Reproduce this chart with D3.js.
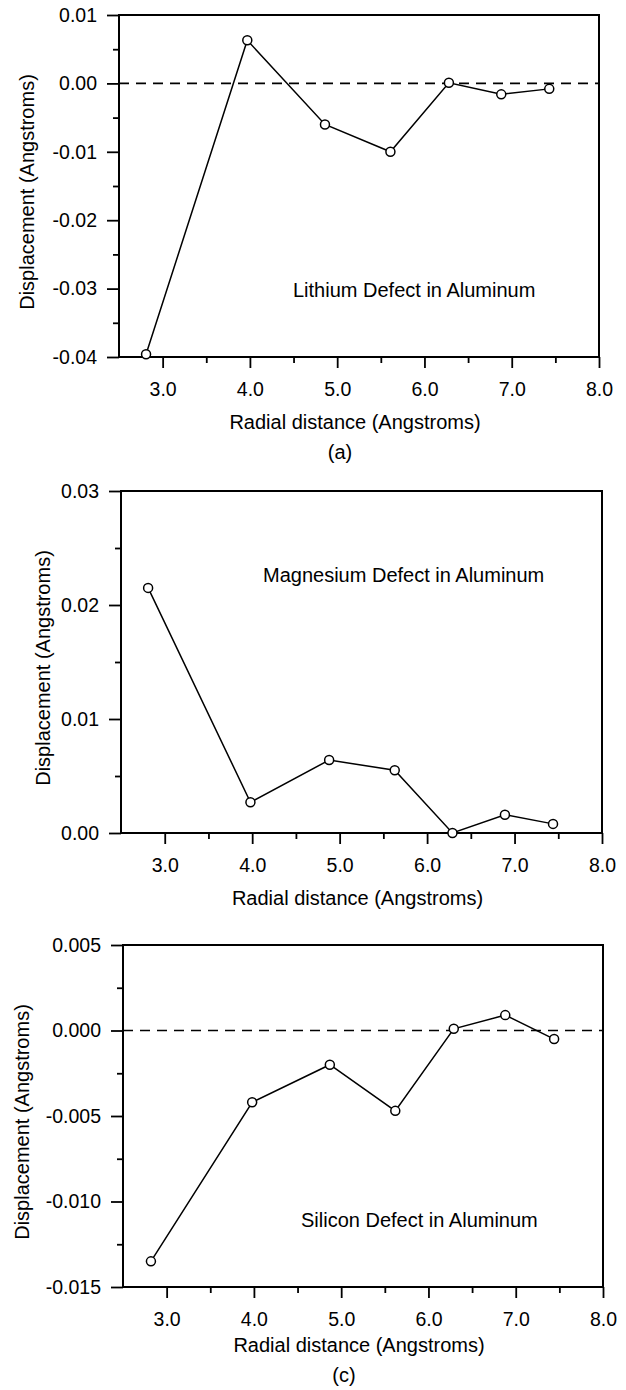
<!DOCTYPE html>
<html>
<head>
<meta charset="utf-8">
<script src="https://cdn.jsdelivr.net/npm/d3@7"></script>
<style>
  body { margin: 0; background: #fff; }
  svg { display: block; font-family: Arial, "Liberation Sans", Helvetica, sans-serif; }
</style>
</head>
<body>
<svg id="chart" width="626" height="1390"></svg>
<script>
// radial distance of neighbour shells (Angstroms) and their displacement
const radialA = [2.81, 3.97, 4.86, 5.61, 6.28, 6.88, 7.43];
const dispA = [-0.0396, 0.0063, -0.0060, -0.0100, 0.0001, -0.0016, -0.0008];

const radialB = [2.81, 3.98, 4.88, 5.63, 6.29, 6.89, 7.44];
const dispB = [0.0215, 0.0027, 0.0064, 0.0055, 0.0000, 0.0016, 0.0008];

const radialC = [2.82, 3.98, 4.87, 5.62, 6.29, 6.88, 7.44];
const dispC = [-0.0135, -0.0042, -0.0020, -0.0047, 0.0001, 0.0009, -0.0005];

// tick values
const xTicks = [3, 4, 5, 6, 7, 8];
const xMinor = [3.5, 4.5, 5.5, 6.5, 7.5];
const yTicksA = [0.01, 0, -0.01, -0.02, -0.03, -0.04];
const yMinorA = [0.005, -0.005, -0.015, -0.025, -0.035];
const yTicksB = [0.03, 0.02, 0.01, 0];
const yMinorB = [0.025, 0.015, 0.005];
const yTicksC = [0.005, 0, -0.005, -0.01, -0.015];
const yMinorC = [0.0025, -0.0025, -0.0075, -0.0125];

const titles = ["Lithium Defect in Aluminum", "Magnesium Defect in Aluminum", "Silicon Defect in Aluminum"];

const svg = d3.select("#chart");

const panels = [
    { xs: radialA, ys: dispA, yDomain: [-0.04, 0.01], yTicks: yTicksA, yMinor: yMinorA, digits: 2,
      left: 119, top: 15, right: 599, bottom: 357, zero: true,
      title: titles[0], titleX: 293, titleY: 297,
      yTitleX: 34, xTitleDy: 72, sub: "(a)" },
    { xs: radialB, ys: dispB, yDomain: [0, 0.03], yTicks: yTicksB, yMinor: yMinorB, digits: 2,
      left: 121, top: 491, right: 602, bottom: 833, zero: false,
      title: titles[1], titleX: 263, titleY: 582,
      yTitleX: 50, xTitleDy: 72, sub: null },
    { xs: radialC, ys: dispC, yDomain: [-0.015, 0.005], yTicks: yTicksC, yMinor: yMinorC, digits: 3,
      left: 123, top: 945, right: 603, bottom: 1287, zero: true,
      title: titles[2], titleX: 301, titleY: 1227,
      yTitleX: 29, xTitleDy: 65, sub: "(c)" }
];

panels.forEach(p => drawPanel(p));

function drawPanel(p) {
    const x = d3.scaleLinear().domain([2.5, 8.0]).range([p.left, p.right]);
    const y = d3.scaleLinear().domain(p.yDomain).range([p.bottom, p.top]);
    const g = svg.append("g");

    // zero reference
    if (p.zero) {
        g.append("line")
            .attr("x1", p.left).attr("x2", p.right)
            .attr("y1", y(0)).attr("y2", y(0))
            .attr("stroke", "#000")
            .attr("stroke-width", 1.6)
            .attr("stroke-dasharray", "10,7");
    }

    // minor ticks
    g.append("g")
        .attr("transform", `translate(0,${p.bottom})`)
        .call(d3.axisBottom(x).tickValues(xMinor).tickSize(6).tickFormat(""))
        .call(s => s.select(".domain").remove());
    g.append("g")
        .attr("transform", `translate(${p.left},0)`)
        .call(d3.axisLeft(y).tickValues(p.yMinor).tickSize(6).tickFormat(""))
        .call(s => s.select(".domain").remove());

    // major ticks
    const xAxis = g.append("g")
        .attr("transform", `translate(0,${p.bottom})`)
        .call(d3.axisBottom(x).tickValues(xTicks).tickSize(11).tickPadding(14)
            .tickFormat(d => d.toFixed(1)));
    const yAxis = g.append("g")
        .attr("transform", `translate(${p.left},0)`)
        .call(d3.axisLeft(y).tickValues(p.yTicks).tickSize(12).tickPadding(10)
            .tickFormat(d => d.toFixed(p.digits)));

    [xAxis, yAxis].forEach(a => {
        a.select(".domain").remove();
        a.selectAll("text").attr("font-size", "19.5px").attr("fill", "#000")
            .attr("font-family", "Arial, 'Liberation Sans', sans-serif");
    });
    g.selectAll(".tick line").attr("stroke", "#000").attr("stroke-width", 1.8);

    // frame
    g.append("rect")
        .attr("x", p.left).attr("y", p.top)
        .attr("width", p.right - p.left).attr("height", p.bottom - p.top)
        .attr("fill", "none").attr("stroke", "#000").attr("stroke-width", 2);

    // data line + markers
    const pts = p.xs.map((v, i) => [v, p.ys[i]]);
    const line = d3.line().x(d => x(d[0])).y(d => y(d[1]));
    g.append("path")
        .datum(pts)
        .attr("d", line)
        .attr("fill", "none")
        .attr("stroke", "#000")
        .attr("stroke-width", 1.5);
    g.selectAll(".pt")
        .data(pts)
        .enter().append("circle")
        .attr("class", "pt")
        .attr("cx", d => x(d[0]))
        .attr("cy", d => y(d[1]))
        .attr("r", 4.5)
        .attr("fill", "#fff")
        .attr("stroke", "#000")
        .attr("stroke-width", 1.5);

    // in-plot caption
    g.append("text")
        .attr("x", p.titleX).attr("y", p.titleY)
        .attr("font-size", "20px")
        .text(p.title);

    // axis titles
    const cx = (p.left + p.right) / 2;
    g.append("text")
        .attr("x", cx - 4).attr("y", p.bottom + p.xTitleDy)
        .attr("text-anchor", "middle")
        .attr("font-size", "20px")
        .text("Radial distance (Angstroms)");
    g.append("text")
        .attr("transform", `translate(${p.yTitleX},${(p.top + p.bottom) / 2 + 6}) rotate(-90)`)
        .attr("text-anchor", "middle")
        .attr("font-size", "20px")
        .text("Displacement (Angstroms)");

    if (p.sub) {
        g.append("text")
            .attr("x", cx - 19).attr("y", p.bottom + p.xTitleDy + 30)
            .attr("text-anchor", "middle")
            .attr("font-size", "20px")
            .text(p.sub);
    }
}
</script>
</body>
</html>
